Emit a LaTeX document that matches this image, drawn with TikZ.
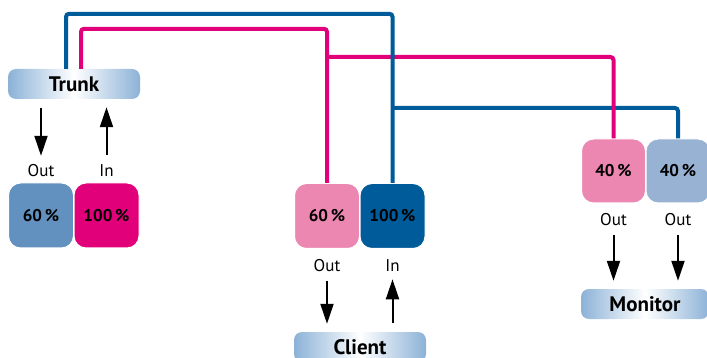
\documentclass[tikz,border=0pt]{standalone}
\usepackage{fontspec}
\setmainfont{PT Sans}
\usetikzlibrary{arrows.meta, positioning}
\definecolor{linkblue}{RGB}{0,91,154}
\definecolor{linkpink}{RGB}{226,0,122}
\definecolor{steelblue}{RGB}{98,145,192}
\definecolor{lightpink}{RGB}{236,135,178}
\definecolor{greyblue}{RGB}{152,178,212}
\definecolor{tagblue}{RGB}{140,178,215}

\begin{document}
\begin{tikzpicture}[
    x=1pt, y=-1pt,
    box/.style={rectangle, rounded corners=12pt, draw=white, line width=1pt, minimum width=65pt, minimum height=65pt, font=\fontsize{17}{20}\selectfont\bfseries},
    tag/.style={rectangle, rounded corners=8pt, minimum width=132pt, minimum height=30pt, left color=tagblue, right color=tagblue, middle color=white, font=\fontsize{21}{25}\selectfont\bfseries},
    port/.style={inner sep=0pt, font=\fontsize{17}{20}\selectfont},
    arrow/.style={-{Triangle[width=13pt,length=20pt]}, line width=2pt, shorten <=9pt, shorten >=8pt},
    link/.style={line width=4pt, rounded corners=3pt}
]
    \useasboundingbox (0,0) rectangle (707,358);

    % Trunk
    \node[tag] (trunk) at (74,84) {Trunk};
    \node[box, fill=steelblue] (trunkOut) at (41,215.5) {60\,\%};
    \node[box, fill=linkpink] (trunkIn) at (106.5,215.5) {100\,\%};
    \node[port, above=6pt of trunkOut] (trunkOutLbl) {Out};
    \node[port, above=6pt of trunkIn] (trunkInLbl) {In};

    \draw[arrow] (trunk.south -| trunkOutLbl.north) -- (trunkOutLbl.north);
    \draw[arrow] (trunkInLbl.north) -- (trunk.south -| trunkInLbl.north);

    % Client
    \node[box, fill=lightpink] (clientOut) at (327,216) {60\,\%};
    \node[box, fill=linkblue] (clientIn) at (392.5,216) {100\,\%};
    \node[port, below=10pt of clientOut] (clientOutLbl) {Out};
    \node[port, below=10pt of clientIn] (clientInLbl) {In};
    \node[tag] (client) at (360,347) {Client};

    \draw[arrow] (clientOutLbl.south) -- (client.north -| clientOutLbl.south);
    \draw[arrow] (client.north -| clientInLbl.south) -- (clientInLbl.south);

    % Monitor
    \node[box, fill=lightpink, minimum width=64pt, minimum height=64pt] (monPink) at (613.5,171) {40\,\%};
    \node[box, fill=greyblue, minimum width=64pt, minimum height=64pt] (monBlue) at (678,171) {40\,\%};
    \node[port, below=9.5pt of monPink] (monPinkLbl) {Out};
    \node[port, below=9.5pt of monBlue] (monBlueLbl) {Out};
    \node[tag, minimum width=128pt] (monitor) at (645,304) {Monitor};

    \draw[arrow] (monPinkLbl.south) -- (monitor.north -| monPinkLbl.south);
    \draw[arrow] (monBlueLbl.south) -- (monitor.north -| monBlueLbl.south);

    % Links
    \coordinate (blueSplit) at (clientIn.north |- 0,108);
    \coordinate (pinkSplit) at (clientOut.north |- 0,57);
    \draw[link, linkblue] (blueSplit) -| (monBlue.north);
    \draw[link, linkpink] (pinkSplit) -| (monPink.north);
    \draw[link, linkblue] ([xshift=-8pt]trunk.north) -- ++(0,-55) -| (clientIn.north);
    \draw[link, linkpink] ([xshift=7pt]trunk.north) -- ++(0,-40) -| (clientOut.north);
\end{tikzpicture}
\end{document}
